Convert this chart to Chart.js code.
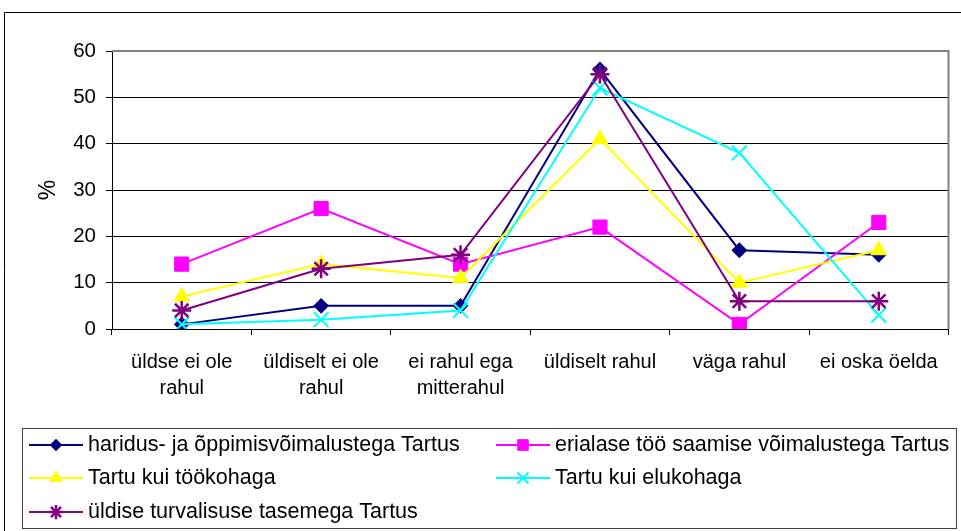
<!DOCTYPE html>
<html>
<head>
<meta charset="utf-8">
<script src="https://cdn.jsdelivr.net/npm/chart.js"></script>
<style>
  body { margin: 0; background: #fff; }
  #wrap { width: 961px; height: 531px; position: relative; }
</style>
</head>
<body>
<div id="wrap"><canvas id="chart" width="961" height="531"></canvas></div>
<script>
const categories = [
  ["üldse ei ole", "rahul"],
  ["üldiselt ei ole", "rahul"],
  ["ei rahul ega", "mitterahul"],
  "üldiselt rahul",
  "väga rahul",
  "ei oska öelda"
];

const seriesNames = [
  "haridus- ja õppimisvõimalustega Tartus",
  "erialase töö saamise võimalustega Tartus",
  "Tartu kui töökohaga",
  "Tartu kui elukohaga",
  "üldise turvalisuse tasemega Tartus"
];

const haridus = [1, 5, 5, 56, 17, 16];
const erialase = [14, 26, 14, 22, 1, 23];
const tookoht = [7, 14, 11, 41, 10, 17];
const elukoht = [1, 2, 4, 52, 38, 3];
const turvalisus = [4, 13, 16, 55, 6, 6];

const yTicks = [0, 10, 20, 30, 40, 50, 60];

const FONT = "'Liberation Sans', Arial, sans-serif";
Chart.defaults.color = "#000";
Chart.defaults.font.family = FONT;

const makeSet = (label, data, color, style, radius, bw, order) => ({
  label: label,
  data: data,
  borderColor: color,
  backgroundColor: color,
  pointBackgroundColor: color,
  pointBorderColor: color,
  borderWidth: 2,
  pointStyle: style,
  pointRadius: radius,
  pointHoverRadius: radius,
  pointBorderWidth: bw,
  tension: 0,
  fill: false,
  order: order
});

// frame, plot border and the two-column legend
const decorations = {
  id: "decorations",
  afterDraw(chart) {
    const ctx = chart.ctx;
    const area = chart.chartArea;
    ctx.save();
    ctx.strokeStyle = "#000";
    ctx.lineWidth = 1;
    ctx.beginPath();
    ctx.moveTo(4.5, 531);
    ctx.lineTo(4.5, 12.5);
    ctx.lineTo(961, 12.5);
    ctx.stroke();

    ctx.strokeStyle = "#808080";
    ctx.lineWidth = 2;
    ctx.beginPath();
    ctx.moveTo(area.left, area.top);
    ctx.lineTo(area.right, area.top);
    ctx.lineTo(area.right, area.bottom);
    ctx.stroke();

    ctx.strokeStyle = "#404040";
    ctx.lineWidth = 1;
    ctx.strokeRect(22.5, 428.5, 934, 100);

    const colX = [29, 496];
    const rowY = [445, 478, 512];
    ctx.font = "21.5px " + FONT;
    ctx.textBaseline = "middle";
    ctx.textAlign = "left";
    chart.data.datasets.forEach((ds, i) => {
      const x = colX[i % 2];
      const y = rowY[Math.floor(i / 2)];
      ctx.strokeStyle = ds.borderColor;
      ctx.lineWidth = 2;
      ctx.beginPath();
      ctx.moveTo(x, y);
      ctx.lineTo(x + 54, y);
      ctx.stroke();
      if (Chart.helpers && Chart.helpers.drawPoint) {
        ctx.fillStyle = ds.backgroundColor;
        ctx.strokeStyle = ds.borderColor;
        ctx.lineWidth = ds.pointBorderWidth;
        Chart.helpers.drawPoint(ctx, {
          pointStyle: ds.pointStyle,
          radius: ds.pointRadius * 0.75,
          rotation: 0,
          borderWidth: ds.pointBorderWidth
        }, x + 27, y);
      }
      ctx.fillStyle = "#000";
      ctx.fillText(ds.label, x + 59, y);
    });
    ctx.restore();
  }
};

new Chart(document.getElementById("chart"), {
  type: "line",
  data: {
    labels: categories,
    datasets: [
      makeSet(seriesNames[0], haridus, "#000080", "rectRot", 6.5, 2, 5),
      makeSet(seriesNames[1], erialase, "#FF00FF", "rect", 10, 1, 4),
      makeSet(seriesNames[2], tookoht, "#FFFF00", "triangle", 9, 1, 3),
      makeSet(seriesNames[3], elukoht, "#00FFFF", "crossRot", 10.5, 2, 2),
      makeSet(seriesNames[4], turvalisus, "#800080", "star", 9.5, 2.5, 1)
    ]
  },
  options: {
    responsive: false,
    animation: false,
    events: [],
    layout: {
      padding: { top: 51, right: 12, left: 35, bottom: 106 }
    },
    scales: {
      x: {
        offset: true,
        grid: {
          offset: true,
          drawOnChartArea: false,
          drawTicks: true,
          tickLength: 6,
          color: "#000"
        },
        border: { color: "#000", width: 1 },
        ticks: {
          font: { size: 20, lineHeight: 1.3 },
          padding: 14,
          maxRotation: 0,
          autoSkip: false
        },
        afterFit: (s) => { s.height = 96; }
      },
      y: {
        min: 0,
        max: 60,
        afterBuildTicks: (s) => { s.ticks = yTicks.map(v => ({ value: v })); },
        grid: {
          color: "#000",
          tickLength: 6
        },
        border: { color: "#000", width: 1 },
        ticks: {
          font: { size: 20.5 },
          padding: 10
        },
        title: {
          display: true,
          text: "%",
          font: { size: 23 },
          padding: 0
        },
        afterFit: (s) => { s.width = 77; }
      }
    },
    plugins: {
      legend: { display: false },
      tooltip: { enabled: false }
    }
  },
  plugins: [decorations]
});
</script>
</body>
</html>
